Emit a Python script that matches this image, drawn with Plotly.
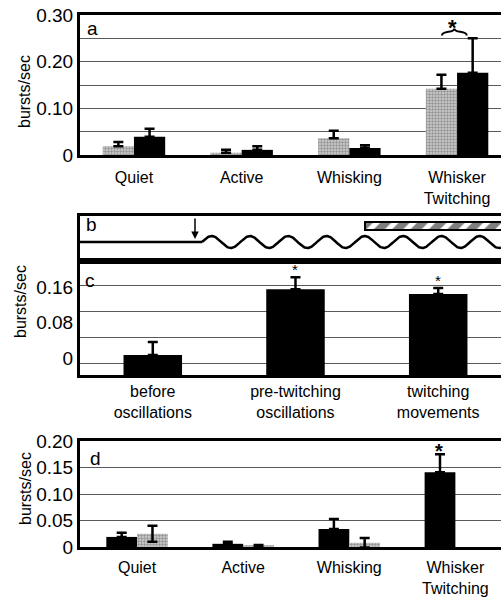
import numpy as np
import plotly.graph_objects as go

# ---------------- data ----------------
categories_ad = ["Quiet", "Active", "Whisking", "Whisker<br>Twitching"]

a_gray = [0.019, 0.005, 0.036, 0.142]
a_gray_err = [0.009, 0.006, 0.016, 0.030]
a_black = [0.039, 0.011, 0.015, 0.176]
a_black_err = [0.017, 0.008, 0.006, 0.074]
a_tickvals = [0, 0.10, 0.20, 0.30]
a_ticktext = ["0", "0.10", "0.20", "0.30"]

c_categories = ["before<br>oscillations", "pre-twitching<br>oscillations", "twitching<br>movements"]
c_values = [0.007, 0.155, 0.144]
c_err = [0.029, 0.027, 0.014]
c_sig = ["", "*", "*"]
c_tickvals = [0, 0.08, 0.16]
c_ticktext = ["0", "0.08", "0.16"]

d_black = [0.019, 0.006, 0.034, 0.141]
d_black_err = [0.008, 0.004, 0.019, 0.034]
d_gray = [0.025, 0.002, 0.008, None]
d_gray_err = [0.015, 0.002, 0.009, None]
d_tickvals = [0, 0.05, 0.10, 0.15, 0.20]
d_ticktext = ["0", "0.05", "0.10", "0.15", "0.20"]

# ---------------- layout helpers ----------------
W, H = 501, 597
def py(p):
    return 1 - p / H
x_left = 80 / W

FONT = "Liberation Sans, Arial, Helvetica, sans-serif"
GRID = "#5a5a5a"
GRAY_BAR = dict(color="#c8c8c8",
                pattern=dict(shape=".", fgcolor="#555555", bgcolor="#d0d0d0", size=3, solidity=0.5),
                line=dict(width=0))
BLACK_BAR = dict(color="black", line=dict(width=0))
BW = 0.29

def err(arr, minus=None):
    d = dict(type="data", array=arr, color="black", thickness=2.5, width=5)
    if minus is None:
        d["symmetric"] = True
    else:
        d.update(symmetric=False, arrayminus=minus)
    return d

fig = go.Figure()

# ---------- panel a ----------
fig.add_trace(go.Bar(x=categories_ad, y=a_gray, width=BW, offset=-BW, marker=GRAY_BAR,
                     error_y=err(a_gray_err, [0] * 4), xaxis="x", yaxis="y"))
fig.add_trace(go.Bar(x=categories_ad, y=a_black, width=BW, offset=0, marker=BLACK_BAR,
                     error_y=err(a_black_err, [0] * 4), xaxis="x", yaxis="y"))

# ---------- panel b (schematic) ----------
onset, period, amp, xend = 122, 38.3, 6, 421
xs = np.linspace(onset, xend, 600)
fig.add_trace(go.Scatter(x=[0, onset], y=[0, 0], mode="lines", line=dict(color="black", width=2.5),
                         xaxis="x2", yaxis="y2", hoverinfo="skip"))
fig.add_trace(go.Scatter(x=xs, y=amp * np.sin(2 * np.pi * (xs - onset) / period), mode="lines",
                         line=dict(color="black", width=2.5), xaxis="x2", yaxis="y2", hoverinfo="skip"))
fig.add_trace(go.Bar(y=[16], x=[200], base=[285], orientation="h", width=[8],
                     marker=dict(color="white",
                                 pattern=dict(shape="/", fgcolor="black", bgcolor="white", size=13, solidity=0.6),
                                 line=dict(color="black", width=2)),
                     xaxis="x2", yaxis="y2", hoverinfo="skip"))

# ---------- panel c ----------
c_min, c_max = -(375 - 358) / 443.75, (358 - 261) / 443.75
fig.add_trace(go.Bar(x=c_categories, y=[v - c_min for v in c_values], base=[c_min] * 3, width=0.41,
                     marker=BLACK_BAR, error_y=err(c_err, [0] * 3), xaxis="x3", yaxis="y3"))

# ---------- panel d ----------
fig.add_trace(go.Bar(x=categories_ad, y=d_black, width=BW, offset=-BW, marker=BLACK_BAR,
                     error_y=err(d_black_err, [0] * 4), xaxis="x4", yaxis="y4"))
fig.add_trace(go.Bar(x=categories_ad, y=d_gray, width=BW, offset=0, marker=GRAY_BAR,
                     error_y=err(d_gray_err), xaxis="x4", yaxis="y4"))

axis_line = dict(showline=True, linecolor="black", linewidth=3, automargin=False)
tickfont_y = dict(family=FONT, size=19, color="black")
tickfont_x = dict(family=FONT, size=16, color="black")

fig.update_layout(
    width=W, height=H, margin=dict(l=0, r=0, t=0, b=0, autoexpand=False),
    paper_bgcolor="white", plot_bgcolor="white",
    barmode="overlay", showlegend=False, font=dict(family=FONT, color="black"),
    # panel a
    xaxis=dict(domain=[x_left, 1], anchor="y", range=[-0.501, 3.408], mirror=True, ticks="",
               tickfont=tickfont_x, ticklabelstandoff=6, showgrid=False, **axis_line),
    yaxis=dict(domain=[py(155), py(15)], anchor="x", range=[0, 0.30], tickvals=a_tickvals, ticktext=a_ticktext,
               tickfont=tickfont_y, ticks="", showgrid=True, gridcolor=GRID, gridwidth=1,
               minor=dict(dtick=0.05, tick0=0, showgrid=True, gridcolor=GRID, gridwidth=1),
               zeroline=False, **axis_line),
    # panel b
    xaxis2=dict(domain=[x_left, 1], anchor="y2", range=[0, 421], mirror=True, showticklabels=False,
                ticks="", showgrid=False, zeroline=False, **axis_line),
    yaxis2=dict(domain=[py(261), py(216)], anchor="x2", range=[-19, 26], showticklabels=False,
                ticks="", showgrid=False, zeroline=False, **axis_line),
    # panel c
    xaxis3=dict(domain=[x_left, 1], anchor="y3", range=[-0.51, 2.44], mirror=True, ticks="",
                tickfont=tickfont_x, ticklabelstandoff=0, showgrid=False, **axis_line),
    yaxis3=dict(domain=[py(375), py(261)], anchor="x3", range=[c_min, c_max], tickvals=c_tickvals,
                ticktext=c_ticktext, tickfont=tickfont_y, ticks="", showgrid=False, zeroline=False,
                minor=dict(tick0=(358 - 363) / 443.75, dtick=26 / 443.75, showgrid=True,
                           gridcolor=GRID, gridwidth=1),
                **axis_line),
    # panel d
    xaxis4=dict(domain=[x_left, 1], anchor="y4", range=[-0.538, 3.43], mirror=True, ticks="",
                tickfont=tickfont_x, ticklabelstandoff=4, showgrid=False, **axis_line),
    yaxis4=dict(domain=[py(547), py(441)], anchor="x4", range=[0, 0.20], tickvals=d_tickvals,
                ticktext=d_ticktext, tickfont=tickfont_y, ticks="", showgrid=True, gridcolor=GRID,
                gridwidth=1, zeroline=False, **axis_line),
)

# significance brace + asterisk in panel a
fig.add_shape(type="path", xref="x", yref="y", line=dict(color="black", width=2),
              path="M 2.86,0.256 C 2.86,0.268 2.975,0.260 2.975,0.271 C 2.975,0.260 3.09,0.268 3.09,0.256")
fig.add_annotation(x=2.96, y=0.271, xref="x", yref="y", text="<b>*</b>", showarrow=False,
                   yanchor="bottom", font=dict(size=22, family=FONT, color="black"), yshift=-13)

# asterisks in panel c
for cat, v, e, s in zip(c_categories, c_values, c_err, c_sig):
    if s:
        fig.add_annotation(x=cat, y=v + e, xref="x3", yref="y3", text=s, showarrow=False,
                           yanchor="bottom", font=dict(size=15, family=FONT, color="black"), yshift=-3)
# asterisk panel d
for cat, v, e in zip(categories_ad, d_black, d_black_err):
    if v > 0.1:
        fig.add_annotation(x=cat, y=v + e, xref="x4", yref="y4", text="<b>*</b>", showarrow=False,
                           yanchor="bottom", font=dict(size=20, family=FONT, color="black"),
                           yshift=-10, xshift=-16)

# arrow (oscillation onset) in panel b
fig.add_annotation(x=115, y=3, ax=115, ay=25, xref="x2", yref="y2", axref="x2", ayref="y2",
                   showarrow=True, arrowhead=2, arrowsize=1, arrowwidth=1.5, arrowcolor="black", text="")

# panel letters
for letter, (lx, ly) in {"a": (92, 28), "b": (91, 225), "c": (90, 280), "d": (95, 458)}.items():
    fig.add_annotation(x=lx / W, y=py(ly), xref="paper", yref="paper", text=letter, showarrow=False,
                       font=dict(size=19, family=FONT, color="black"), xanchor="center", yanchor="middle")

# y-axis titles
for tx, ty in [(25, 92), (20, 302), (25, 489)]:
    fig.add_annotation(x=tx / W, y=py(ty), xref="paper", yref="paper", text="bursts/sec", textangle=-90,
                       showarrow=False, font=dict(size=16, family=FONT, color="black"),
                       xanchor="center", yanchor="middle")

fig.write_html("out.html", config={"displayModeBar": False},
               post_script="document.body.style.margin='0';document.body.style.overflow='hidden';")
